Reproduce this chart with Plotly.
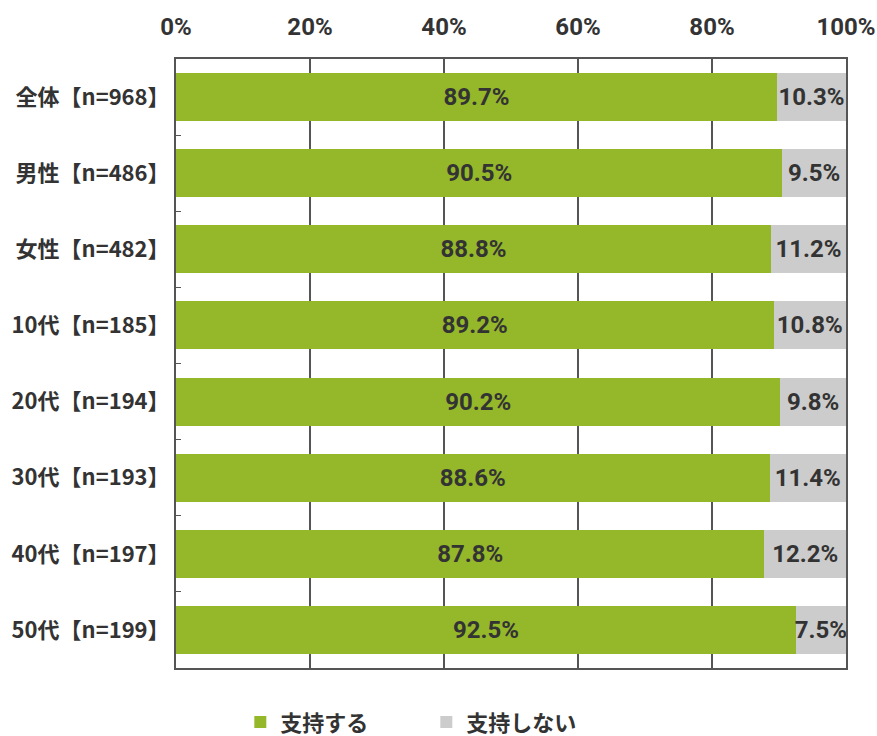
import plotly.graph_objects as go

categories = ["全体【n=968】", "男性【n=486】", "女性【n=482】", "10代【n=185】",
              "20代【n=194】", "30代【n=193】", "40代【n=197】", "50代【n=199】"]
support = [89.7, 90.5, 88.8, 89.2, 90.2, 88.6, 87.8, 92.5]
not_support = [10.3, 9.5, 11.2, 10.8, 9.8, 11.4, 12.2, 7.5]
series_names = ["支持する", "支持しない"]
tick_vals = [0, 20, 40, 60, 80, 100]
tick_text = ["0%", "20%", "40%", "60%", "80%", "100%"]

num_family = "Liberation Sans Narrow, Roboto, Arial"
label_font = dict(family=num_family, size=24, color="#333333", weight="bold")

fig = go.Figure()
fig.add_trace(go.Bar(
    y=categories, x=support, orientation="h", name=series_names[0],
    marker=dict(color="#95B72A", line=dict(width=0)),
    text=[f"{v:.1f}%" for v in support], textposition="inside",
    insidetextanchor="middle", textfont=label_font, width=0.63,
    constraintext="none",
))
fig.add_trace(go.Bar(
    y=categories, x=not_support, orientation="h", name=series_names[1],
    marker=dict(color="#CCCCCC", line=dict(width=0)),
    text=[f"{v:.1f}%" for v in not_support], textposition="inside",
    insidetextanchor="middle", textfont=label_font, width=0.63,
    constraintext="none",
))

fig.update_layout(
    barmode="stack",
    width=877, height=736,
    margin=dict(l=176, r=31, t=59, b=68, autoexpand=False),
    paper_bgcolor="white", plot_bgcolor="white",
    uniformtext=dict(mode=False),
    xaxis=dict(
        side="top", range=[0, 100], tickvals=tick_vals, ticktext=tick_text,
        showgrid=True, gridcolor="#555555", gridwidth=1.5,
        showline=True, linecolor="#555555", linewidth=2, mirror=True,
        ticks="", zeroline=False, automargin=False, ticklabelstandoff=12,
        tickfont=dict(family=num_family, size=24, color="#333333", weight="bold"),
        fixedrange=True,
    ),
    yaxis=dict(
        autorange="reversed", showline=True, linecolor="#555555", linewidth=2,
        mirror=True, ticks="inside", tickson="boundaries", ticklen=5,
        tickcolor="#555555", tickwidth=1, automargin=False,
        tickfont=dict(family="Liberation Sans Narrow, Noto Sans CJK JP", size=22,
                      color="#333333", weight="bold"),
        ticklabelstandoff=0,
    ),
    legend=dict(
        orientation="h", x=0.096, xanchor="left", y=-0.089, yanchor="middle",
        font=dict(family="Noto Sans CJK JP", size=22, color="#333333", weight="bold"),
        entrywidth=141, entrywidthmode="pixels", traceorder="normal",
        itemclick=False,
    ),
    showlegend=True,
)

fig.write_html(
    "out.html",
    config={"displayModeBar": False},
    post_script="document.body.style.margin='0';document.body.style.overflow='hidden';",
)
